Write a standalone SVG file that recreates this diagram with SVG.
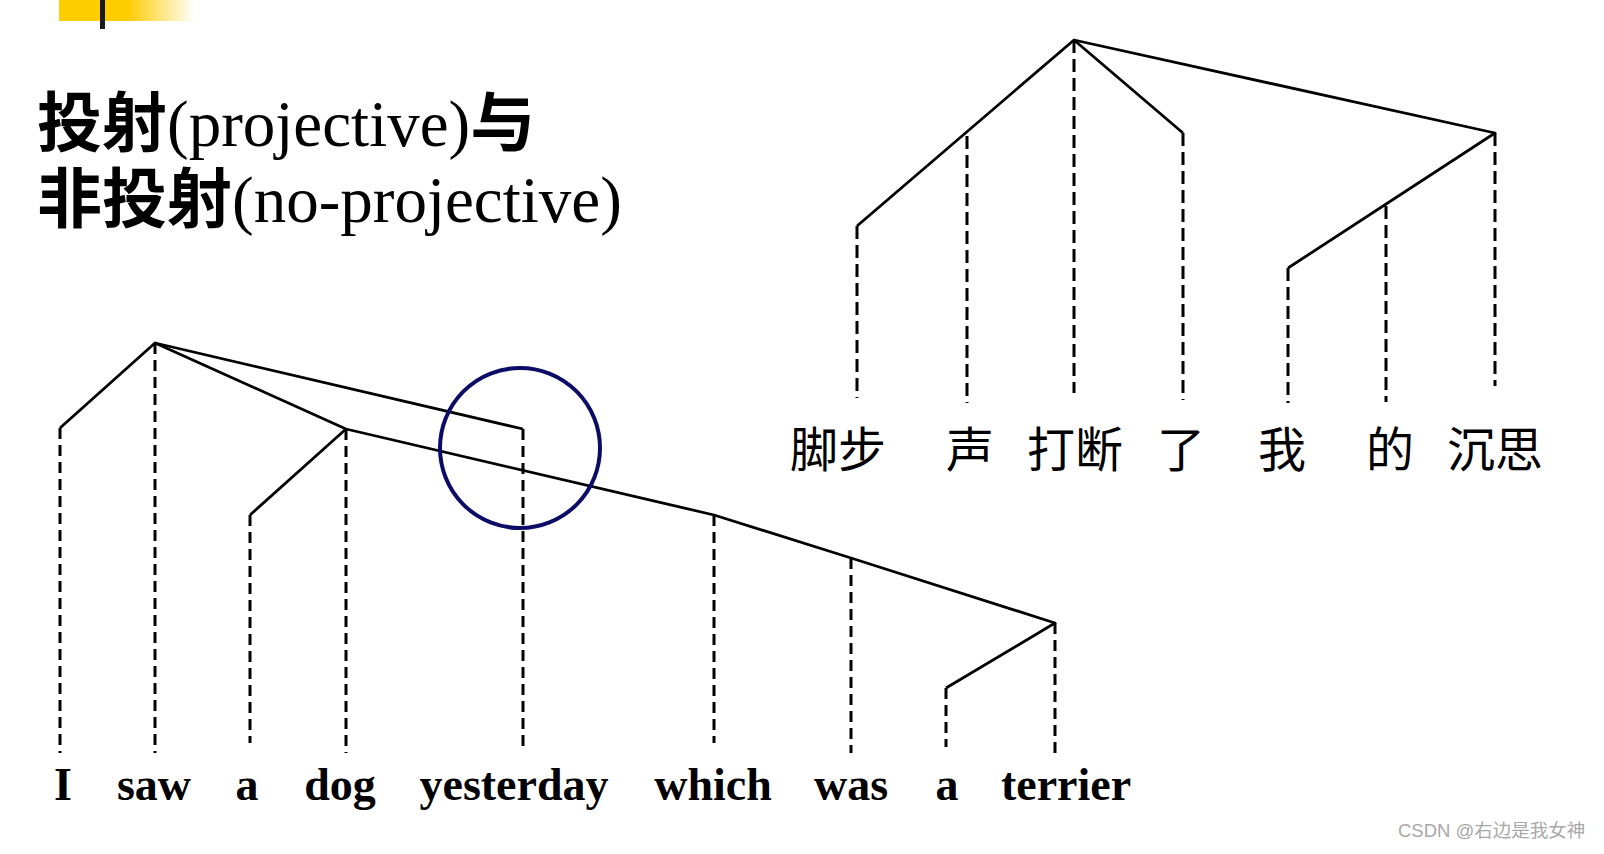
<svg xmlns="http://www.w3.org/2000/svg" width="1604" height="854" viewBox="0 0 1604 854">
<defs>
<linearGradient id="yg" x1="0" y1="0" x2="1" y2="0">
<stop offset="0" stop-color="#FFCC00"/>
<stop offset="0.5" stop-color="#FFCC00"/>
<stop offset="1" stop-color="#FFFFFF"/>
</linearGradient>
<style>
.solid{fill:none;stroke:#000;stroke-width:2.8;stroke-linejoin:round}
.dashE{fill:none;stroke:#000;stroke-width:3;stroke-dasharray:11 6}
.dashC{fill:none;stroke:#000;stroke-width:3;stroke-dasharray:13 6}
.title{font-family:"Liberation Serif","Noto Sans CJK SC",serif;font-size:65px;fill:#000}
.cjk{font-weight:700}
.en{font-family:"Liberation Serif",serif;font-weight:700;font-size:46px;fill:#000;text-anchor:middle}
.zh{font-family:"Noto Sans CJK SC",sans-serif;font-size:48px;fill:#000;text-anchor:middle}
.wm{font-family:"Liberation Sans","Noto Sans CJK SC",sans-serif;font-size:18.5px;fill:#a8a8a8}
</style>
</defs>
<rect width="1604" height="854" fill="#fff"/>
<g id="header">
<rect x="59" y="0" width="136" height="21" fill="url(#yg)"/>
<rect x="100" y="0" width="5" height="29" fill="#1a1a1a"/>
</g>
<g id="title">
<text class="title" x="37" y="146"><tspan class="cjk">投射</tspan>(projective)<tspan class="cjk">与</tspan></text>
<text class="title" x="37" y="222"><tspan class="cjk">非投射</tspan>(no-projective)</text>
</g>
<g id="connectors">
<polyline class="solid" points="60,428 155,343 346,429 714,515 851,558 1055,623 946,688"/>
<polyline class="solid" points="155,343 523,429"/>
<polyline class="solid" points="250,515 346,429"/>
<line class="dashE" x1="60" y1="428" x2="60" y2="753"/>
<line class="dashE" x1="155" y1="343" x2="155" y2="753"/>
<line class="dashE" x1="250" y1="515" x2="250" y2="743"/>
<line class="dashE" x1="346" y1="429" x2="346" y2="753"/>
<line class="dashE" x1="523" y1="429" x2="523" y2="750"/>
<line class="dashE" x1="714" y1="515" x2="714" y2="743"/>
<line class="dashE" x1="851" y1="558" x2="851" y2="753"/>
<line class="dashE" x1="946" y1="688" x2="946" y2="747"/>
<line class="dashE" x1="1055" y1="623" x2="1055" y2="753"/>
<polyline class="solid" points="857,226 1074,40 1183,133"/>
<polyline class="solid" points="1074,40 1495,133 1288,268"/>
<line class="dashC" x1="857" y1="226" x2="857" y2="398"/>
<line class="dashC" x1="967" y1="136" x2="967" y2="403"/>
<line class="dashC" x1="1074" y1="40" x2="1074" y2="393"/>
<line class="dashC" x1="1183" y1="133" x2="1183" y2="400"/>
<line class="dashC" x1="1288" y1="268" x2="1288" y2="403"/>
<line class="dashC" x1="1386" y1="206" x2="1386" y2="402"/>
<line class="dashC" x1="1495" y1="133" x2="1495" y2="386"/>
</g>
<g id="highlight">
<circle cx="520" cy="448" r="80" fill="none" stroke="#0c0c66" stroke-width="4"/>
</g>
<g id="words-en">
<text class="en" x="63" y="800">I</text>
<text class="en" x="154" y="800">saw</text>
<text class="en" x="247" y="800">a</text>
<text class="en" x="340" y="800">dog</text>
<text class="en" x="514" y="800">yesterday</text>
<text class="en" x="713" y="800">which</text>
<text class="en" x="851" y="800">was</text>
<text class="en" x="947" y="800">a</text>
<text class="en" x="1066" y="800">terrier</text>
</g>
<g id="words-zh">
<text class="zh" x="838" y="467">脚步</text>
<text class="zh" x="970" y="467">声</text>
<text class="zh" x="1075" y="467">打断</text>
<text class="zh" x="1181" y="467">了</text>
<text class="zh" x="1282" y="467">我</text>
<text class="zh" x="1390" y="467">的</text>
<text class="zh" x="1495" y="467">沉思</text>
</g>
<text class="wm" x="1398" y="837">CSDN @右边是我女神</text>
</svg>
